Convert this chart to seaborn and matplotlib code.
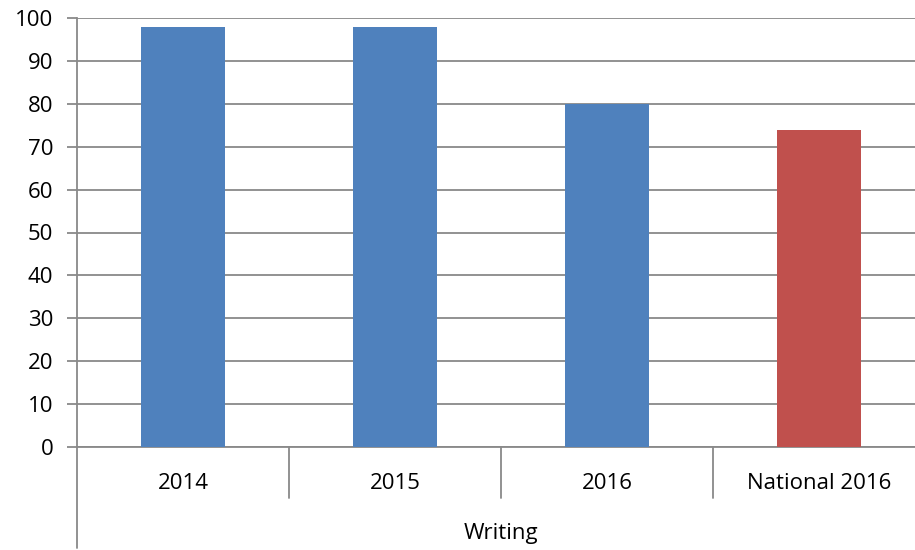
import matplotlib
matplotlib.use("Agg")
import matplotlib.pyplot as plt
import seaborn as sns
import pandas as pd

categories = ["2014", "2015", "2016", "National 2016"]
values = [98, 98, 80, 74]
groups = ["school", "school", "school", "national"]
group_label = "Writing"
yticks = list(range(0, 101, 10))

sns.set_theme(style="white")
plt.rcParams['font.family'] = ['Open Sans', 'DejaVu Sans']

FS = 16
W, H = 915, 550
fig = plt.figure(figsize=(W / 100, H / 100), dpi=100)
ax = fig.add_axes([77 / W, 1 - 447 / H, 848 / W, 429 / H])

df = pd.DataFrame({"cat": categories, "val": values, "grp": groups})
sns.barplot(data=df, x="cat", y="val", hue="grp",
            palette={"school": "#4F81BD", "national": "#C0504D"},
            dodge=False, width=0.4, legend=False, ax=ax, zorder=3,
            saturation=1, linewidth=0)

grid_c = "#898989"
ax.set_ylim(0, 100)
ax.set_xlim(-0.5, len(categories) - 0.5)
ax.set_yticks(yticks)
ax.set_yticklabels([str(t) for t in yticks], fontsize=FS)
ax.yaxis.grid(True, color=grid_c, linewidth=1.3, zorder=0)
ax.set_axisbelow(True)
ax.tick_params(axis="y", which="major", left=True, length=7, width=1.3,
               color=grid_c, pad=10, labelcolor="black")
ax.tick_params(axis="x", bottom=False, length=0, pad=19, labelsize=FS,
               labelcolor="black")
ax.set_xlabel("")
ax.set_ylabel("")
for s in ["top", "right"]:
    ax.spines[s].set_visible(False)
ax.spines["left"].set_color(grid_c)
ax.spines["left"].set_linewidth(1.3)
ax.spines["bottom"].set_color(grid_c)
ax.spines["bottom"].set_linewidth(1.3)

trans = ax.get_xaxis_transform()
# category separators
for xb in [0.5, 1.5, 2.5]:
    ax.plot([xb, xb], [0, -51 / 429], transform=trans, color=grid_c,
            linewidth=1.3, clip_on=False)
# extended left axis line
ax.plot([-0.5, -0.5], [0, -101 / 429], transform=trans, color=grid_c,
        linewidth=1.3, clip_on=False)

# group label
ax.text(1.5, -86 / 429, group_label, transform=trans, ha="center",
        va="center", fontsize=FS, color="black")

fig.savefig("out.png", dpi=100)
